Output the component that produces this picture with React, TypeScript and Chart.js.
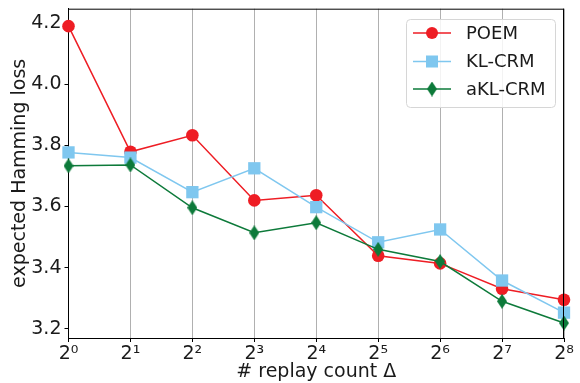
import React, { useEffect, useRef } from 'react';
import { Chart, registerables } from 'chart.js';
Chart.register(...registerables);

const superscripts = ['⁰', '¹', '²', '³', '⁴', '⁵', '⁶', '⁷', '⁸'];
const categories = superscripts.map((s) => '2' + s);
const seriesNames = ['POEM', 'KL-CRM', 'aKL-CRM'];
const poem = [4.19, 3.779, 3.833, 3.62, 3.637, 3.439, 3.414, 3.331, 3.295];
const klCrm = [3.777, 3.76, 3.647, 3.725, 3.598, 3.483, 3.525, 3.358, 3.253];
const aklCrm = [3.733, 3.736, 3.596, 3.514, 3.547, 3.46, 3.42, 3.29, 3.219];
const yTicks = [3.2, 3.4, 3.6, 3.8, 4.0, 4.2];
const xTitle = '# replay count Δ';
const yTitle = 'expected Hamming loss';

const RED = '#ee1d24';
const BLUE = '#7fc7ef';
const GREEN = '#0d7a3a';
const FONT = "'DejaVu Sans', sans-serif";

function makeDiamond(color: string) {
  const c = document.createElement('canvas');
  const w = 10, h = 15;
  c.width = w; c.height = h;
  const ctx = c.getContext('2d')!;
  ctx.fillStyle = color;
  ctx.beginPath();
  ctx.moveTo(w / 2, 0);
  ctx.lineTo(w, h / 2);
  ctx.lineTo(w / 2, h);
  ctx.lineTo(0, h / 2);
  ctx.closePath();
  ctx.fill();
  return c;
}

export default function App() {
  const ref = useRef<HTMLCanvasElement>(null);
  useEffect(() => {
    const diamond = makeDiamond(GREEN);
    const framePlugin = {
      id: 'frame',
      afterDraw(chart: any) {
        const { ctx, chartArea: a } = chart;
        ctx.save();
        ctx.strokeStyle = '#000';
        ctx.lineWidth = 1;
        ctx.beginPath();
        ctx.moveTo(a.left, a.top + 0.5);
        ctx.lineTo(a.right, a.top + 0.5);
        ctx.moveTo(a.right - 0.5, a.top);
        ctx.lineTo(a.right - 0.5, a.bottom);
        ctx.stroke();
        ctx.restore();
      },
    };
    const legendPlugin = {
      id: 'customLegend',
      afterDraw(chart: any) {
        const { ctx } = chart;
        const bx = 406, by = 19, bw = 149, bh = 88, r = 4;
        ctx.save();
        ctx.fillStyle = 'rgba(255,255,255,0.85)';
        ctx.strokeStyle = '#d6d6d6';
        ctx.lineWidth = 1;
        ctx.beginPath();
        ctx.roundRect(bx + 0.5, by + 0.5, bw, bh, r);
        ctx.fill();
        ctx.stroke();
        const ys = [33, 61.5, 89];
        const colors = [RED, BLUE, GREEN];
        ctx.font = `18px ${FONT}`;
        ctx.textBaseline = 'middle';
        ys.forEach((y, i) => {
          ctx.strokeStyle = colors[i];
          ctx.lineWidth = 1.5;
          ctx.beginPath();
          ctx.moveTo(413, y);
          ctx.lineTo(451, y);
          ctx.stroke();
          ctx.fillStyle = colors[i];
          if (i === 0) {
            ctx.beginPath();
            ctx.arc(432, y, 6, 0, Math.PI * 2);
            ctx.fill();
          } else if (i === 1) {
            ctx.fillRect(426, y - 6, 12, 12);
          } else {
            ctx.drawImage(diamond, 432 - diamond.width / 2, y - diamond.height / 2);
          }
          ctx.fillStyle = '#1a1a1a';
          ctx.fillText(seriesNames[i], 466, y + 1);
        });
        ctx.restore();
      },
    };
    const chart = new Chart(ref.current!, {
      type: 'line',
      data: {
        labels: categories,
        datasets: [
          {
            label: seriesNames[0], data: poem, borderColor: RED, backgroundColor: RED,
            pointBackgroundColor: RED, pointBorderColor: RED, pointStyle: 'circle',
            pointRadius: 6.3, borderWidth: 1.5, pointBorderWidth: 0, order: 2, clip: false as any,
          },
          {
            label: seriesNames[1], data: klCrm, borderColor: BLUE, backgroundColor: BLUE,
            pointBackgroundColor: BLUE, pointBorderColor: BLUE, pointStyle: 'rect',
            pointRadius: 8.7, borderWidth: 1.5, pointBorderWidth: 0, order: 1, clip: false as any,
          },
          {
            label: seriesNames[2], data: aklCrm, borderColor: GREEN, backgroundColor: GREEN,
            pointStyle: diamond as any, pointRadius: 7, borderWidth: 1.5, order: 0, clip: false as any,
          },
        ],
      },
      options: {
        animation: false,
        responsive: false,
        maintainAspectRatio: false,
        events: [],
        layout: { padding: { left: 0, right: 16, top: 7.5, bottom: 0 } },
        plugins: { legend: { display: false }, tooltip: { enabled: false } },
        scales: {
          x: {
            type: 'category',
            offset: false,
            afterFit: (s: any) => { s.height = 45; s.paddingLeft = 0; s.paddingRight = 0; },
            grid: { color: '#b0b0b0', lineWidth: 1, tickColor: '#000', tickLength: 4, drawOnChartArea: true },
            border: { color: '#000', width: 1 },
            ticks: { color: '#1a1a1a', font: { family: FONT, size: 19 }, padding: 1, maxRotation: 0, autoSkip: false },
            title: { display: true, text: xTitle, color: '#1a1a1a', font: { family: FONT, size: 19 }, padding: { top: 0, bottom: 0 } },
          },
          y: {
            type: 'linear',
            min: 3.17,
            max: 4.247,
            afterFit: (s: any) => { s.width = 68.5; s.paddingTop = 0; s.paddingBottom = 0; },
            afterBuildTicks: (s: any) => { s.ticks = yTicks.map((v) => ({ value: v })); },
            grid: { drawOnChartArea: false, tickColor: '#000', tickLength: 4 },
            border: { color: '#000', width: 1 },
            ticks: {
              color: '#1a1a1a', font: { family: FONT, size: 19 }, padding: 3,
              callback: (v: any) => Number(v).toFixed(1),
            },
            title: { display: true, text: yTitle, color: '#1a1a1a', font: { family: FONT, size: 19 }, padding: { top: 8.5, bottom: 0 } },
          },
        },
      },
      plugins: [framePlugin, legendPlugin],
    });
    return () => chart.destroy();
  }, []);
  return (
    <div style={{ position: 'fixed', left: 0, top: 0, width: 580, height: 383, background: '#fff' }}>
      <canvas ref={ref} width={580} height={383} style={{ width: 580, height: 383, display: 'block' }} />
    </div>
  );
}
